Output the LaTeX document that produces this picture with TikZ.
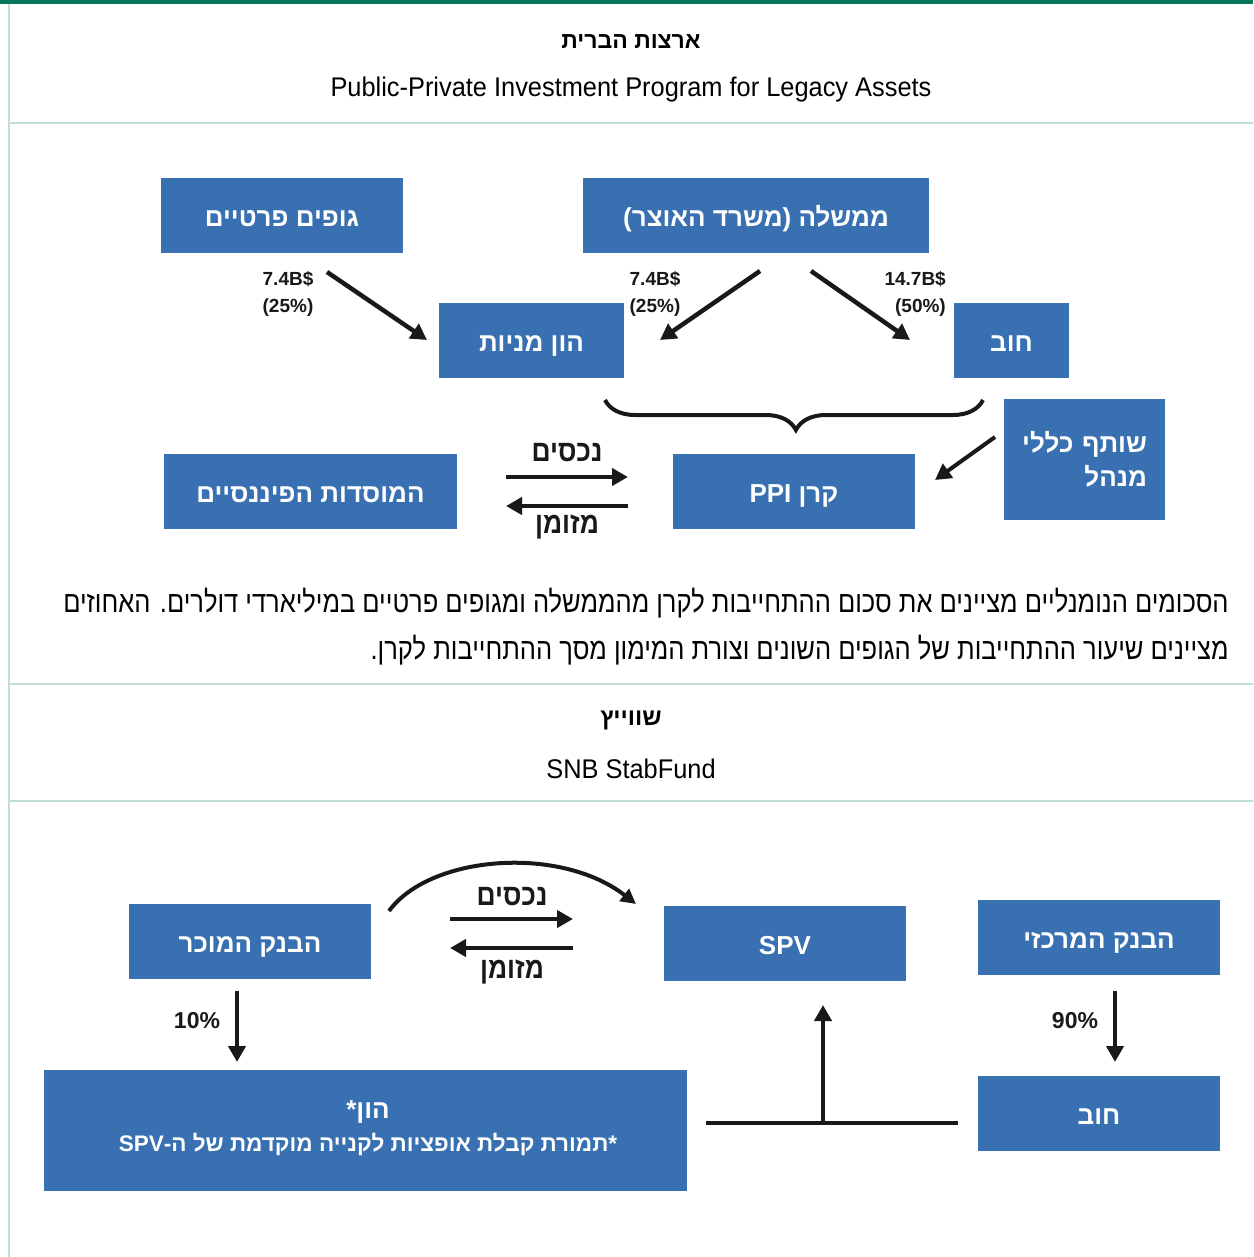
\documentclass[tikz,border=0pt]{standalone}
\usepackage{fontspec}
\setmainfont{Liberation Sans}
\newfontfamily\heb[Script=Hebrew]{Liberation Sans}
\newfontfamily\hebn[Script=Hebrew,FakeStretch=0.85]{Liberation Sans}
\newfontfamily\hebf[Script=Hebrew,FakeStretch=0.88]{Liberation Sans}
\newfontfamily\latn[FakeStretch=0.94]{Liberation Sans}
\usetikzlibrary{arrows.meta,decorations.pathreplacing}
\TeXXeTstate=1
\newcommand{\rl}[1]{\beginR #1\endR}
\newcommand{\lr}[1]{\beginL #1\endL}
\definecolor{boxblue}{RGB}{56,112,177}
\definecolor{topgreen}{RGB}{6,120,92}
\definecolor{rulegreen}{RGB}{192,222,212}
\definecolor{ink}{RGB}{26,24,27}

\begin{document}
\begin{tikzpicture}[x=1pt,y=-1pt,
  panel/.style={fill=boxblue,text=white,inner sep=0pt,font=\heb\bfseries\fontsize{26}{30}\selectfont},
  box/.style={panel,text height=22pt,text depth=0pt},
  lbl/.style={text=ink,inner sep=0pt,font=\heb\bfseries\fontsize{19}{22}\selectfont},
  flowlbl/.style={text=ink,inner sep=0pt,font=\hebf\bfseries\fontsize{30}{32}\selectfont},
  flow/.style={ink,line width=4.5pt,-{Triangle[length=16pt,width=17pt]}},
  rule/.style={rulegreen,line width=2pt}]

\useasboundingbox (0,0) rectangle (1253,1257);
\fill[topgreen] (0,0) rectangle (1253,4);
\draw[rule] (9,4) -- (9,1257);
\draw[rule] (9,123) -- (1253,123);
\draw[rule] (9,684) -- (1253,684);
\draw[rule] (9,801) -- (1253,801);

\node[font=\heb\bfseries\fontsize{23}{26}\selectfont] (usa) at (631,42) {\rl{ארצות הברית}};
\node[font=\latn\fontsize{27}{30}\selectfont] (ppip) at (631,90) {Public-Private Investment Program for Legacy Assets};

\node[box,minimum width=242pt,minimum height=75pt] (private) at (282,215.5) {\rl{גופים פרטיים}};
\node[box,minimum width=346pt,minimum height=75pt] (gov) at (756,215.5) {\rl{ממשלה (משרד האוצר)}};
\node[box,minimum width=185pt,minimum height=75pt] (equity) at (531.5,340.5) {\rl{הון מניות}};
\node[box,minimum width=115pt,minimum height=75pt] (debt) at (1011.5,340.5) {\rl{חוב}};
\node[box,minimum width=293pt,minimum height=75pt] (inst) at (310.5,491.5) {\rl{המוסדות הפיננסיים}};
\node[box,minimum width=242pt,minimum height=75pt] (fund) at (794,491.5) {\rl{קרן \lr{PPI}}};
\node[panel,minimum width=161pt,minimum height=121pt,align=right,text width=125pt] (gp) at (1084.5,459.5) {\rl{שותף כללי}\\[4pt]\rl{מנהל}};

\coordinate (p1) at (327,272);
\coordinate (p2) at (427,340);
\coordinate (g1) at (760,271);
\coordinate (g2) at (660,340);
\coordinate (g3) at (811,271);
\coordinate (g4) at (910,340);
\draw[flow] (p1) -- (p2);
\draw[flow] (g1) -- (g2);
\draw[flow] (g3) -- (g4);
\node[lbl] (pa) at (288,279) {7.4B\$};
\node[lbl] (pb) at (288,308) {(25\%)};
\node[lbl] (ga) at (655,279) {7.4B\$};
\node[lbl] (gb) at (655,308) {(25\%)};
\node[lbl,anchor=east] (gc) at (946,279) {14.7B\$};
\node[lbl,anchor=east] (gd) at (946,308) {(50\%)};

\draw[ink,line width=4pt,decorate,decoration={brace,mirror,amplitude=30pt,aspect=0.505}] (605,400) -- (983,400);

\coordinate (m1) at (995,437);
\coordinate (m2) at (935,480);
\draw[flow,line width=4pt] (m1) -- (m2);

\coordinate (a1) at (506,477);
\coordinate (a2) at (628,477);
\coordinate (c1) at (628,506);
\coordinate (c2) at (506,506);
\draw[flow,line width=4pt] (a1) -- (a2);
\draw[flow,line width=4pt] (c1) -- (c2);
\node[flowlbl] (assets) at (567,453) {\rl{נכסים}};
\node[flowlbl] (cash) at (567,527) {\rl{מזומן}};

\node[anchor=east,font=\hebn\fontsize{30}{34}\selectfont] (note1) at (1232,603) {\rl{הסכומים הנומנליים מציינים את סכום ההתחייבות לקרן מהממשלה ומגופים פרטיים במיליארדי דולרים. האחוזים}};
\node[anchor=east,font=\hebn\fontsize{30}{34}\selectfont] (note2) at (1232,650) {\rl{מציינים שיעור ההתחייבות של הגופים השונים וצורת המימון מסך ההתחייבות לקרן.}};

\node[font=\heb\bfseries\fontsize{24}{26}\selectfont] (swiss) at (631,720) {\rl{שווייץ}};
\node[font=\latn\fontsize{27}{30}\selectfont] (snb) at (631,769) {SNB StabFund};

\node[box,minimum width=242pt,minimum height=75pt] (seller) at (250,941.5) {\rl{הבנק המוכר}};
\node[box,minimum width=242pt,minimum height=75pt] (spv) at (785,943.5) {SPV};
\node[box,minimum width=242pt,minimum height=75pt] (cbank) at (1099,937.5) {\rl{הבנק המרכזי}};
\node[panel,minimum width=643pt,minimum height=121pt] (capital) at (365.5,1130.5) {};
\node[text=white,font=\heb\bfseries\fontsize{26}{30}\selectfont] (cap1) at (368,1112) {\rl{הון*}};
\node[text=white,font=\heb\bfseries\fontsize{22.5}{24}\selectfont] (cap2) at (368,1144) {\rl{*תמורת קבלת אופציות לקנייה מוקדמת של ה-\lr{SPV}}};
\node[box,minimum width=242pt,minimum height=75pt] (debt2) at (1099,1113.5) {\rl{חוב}};

\coordinate (b1) at (389,911);
\coordinate (b2) at (636,904);
\draw[ink,line width=4pt,-{Triangle[length=15pt,width=15pt]}] (b1) .. controls (430,855) and (560,845) .. (b2);

\coordinate (s1) at (450,919);
\coordinate (s2) at (573,919);
\coordinate (s3) at (573,948);
\coordinate (s4) at (450,948);
\draw[flow,line width=4pt] (s1) -- (s2);
\draw[flow,line width=4pt] (s3) -- (s4);
\node[flowlbl] (assets2) at (512,897) {\rl{נכסים}};
\node[flowlbl] (cash2) at (512,972) {\rl{מזומן}};

\draw[flow,line width=4pt] (237,991) -- (237,1062);
\node[lbl,font=\heb\bfseries\fontsize{23}{26}\selectfont] (ten) at (197,1021) {10\%};
\draw[flow,line width=4pt] (1115,991) -- (1115,1062);
\node[lbl,font=\heb\bfseries\fontsize{23}{26}\selectfont] (ninety) at (1075,1021) {90\%};

\coordinate (h1) at (706,1123);
\coordinate (h2) at (958,1123);
\coordinate (h3) at (823,1123);
\coordinate (h4) at (823,1005);
\draw[ink,line width=4pt] (h1) -- (h2);
\draw[flow,line width=4pt] (h3) -- (h4);
\end{tikzpicture}
\end{document}
